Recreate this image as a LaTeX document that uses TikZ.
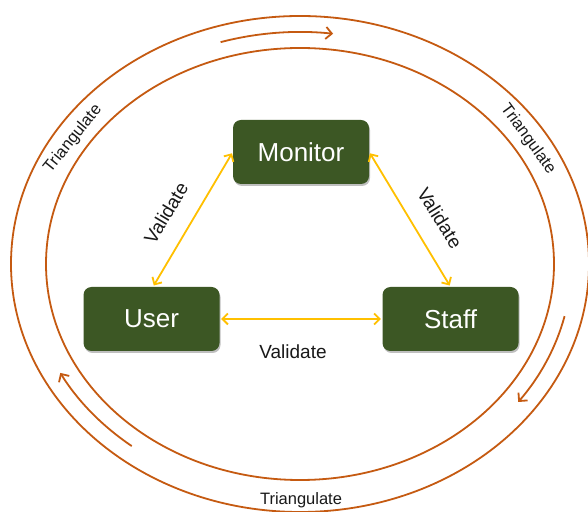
\documentclass[tikz,border=0pt]{standalone}
\usepackage{fontspec}
\setmainfont{Liberation Sans}
\usetikzlibrary{arrows.meta,shadows}
\definecolor{boxgreen}{RGB}{60,87,36}
\definecolor{ringorange}{RGB}{197,90,17}
\definecolor{linkgold}{RGB}{255,192,0}
\definecolor{labelink}{RGB}{25,25,25}
\begin{document}
\begin{tikzpicture}[x=1pt,y=1pt,
  actor/.style={fill=boxgreen, rounded corners=8pt, minimum width=136pt,
    minimum height=64pt, inner sep=0pt, text=white,
    font=\fontsize{26}{30}\selectfont,
    drop shadow={shadow xshift=1pt, shadow yshift=-2pt, opacity=0.25, fill=black}},
  ring/.style={draw=ringorange, line width=1.8pt},
  flow/.style={draw=ringorange, line width=1.8pt,
    -{Straight Barb[length=6pt,width=12pt,line width=1.8pt]}},
  link/.style={draw=linkgold, line width=1.8pt,
    {Straight Barb[length=5.5pt,width=11pt,line width=1.8pt]}-{Straight Barb[length=5.5pt,width=11pt,line width=1.8pt]},
    shorten <=1.5pt, shorten >=1.5pt},
  vlabel/.style={text=labelink, inner sep=0pt, font=\fontsize{19}{22}\selectfont},
  tlabel/.style={text=labelink, inner sep=0pt, font=\fontsize{16.5}{19}\selectfont}]
\useasboundingbox (0,0) rectangle (588,511);
\fill[white] (0,0) rectangle (588,511);
\clip (0,0) rectangle (588,511);

% the two triangulation rings
\coordinate (c) at (300,247);
\draw[ring] (c) ellipse [x radius=289, y radius=248];
\draw[ring] (c) ellipse [x radius=254, y radius=216];

% circulation arrows running between the rings
\draw[flow] (c) ++(107:271.5 and 232) arc[start angle=107, end angle=83, x radius=271.5, y radius=232];
\draw[flow] (c) ++(-13:271.5 and 232) arc[start angle=-13, end angle=-36.5, x radius=271.5, y radius=232];
\draw[flow] (c) ++(231.7:271.5 and 232) arc[start angle=231.7, end angle=208, x radius=271.5, y radius=232];

% the three parties
\node[actor] (monitor) at (301,359) {Monitor};
\node[actor] (user) at (151.5,192) {User};
\node[actor] (staff) at (450.5,192) {Staff};

% validation links
\draw[link] (monitor.west) -- ([xshift=1.5pt]user.north);
\draw[link] (monitor.east) -- (staff.north);
\draw[link] (user.east) -- (staff.west);

\node[vlabel, rotate=59] (vleft) at (166,298) {Validate};
\node[vlabel, rotate=-58] (vright) at (440,293) {Validate};
\node[vlabel] (vbottom) at (293,159) {Validate};

\node[tlabel, rotate=51] (tleft) at (73,372) {Triangulate};
\node[tlabel, rotate=-54] (tright) at (528,372) {Triangulate};
\node[tlabel] (tbottom) at (301,11) {Triangulate};
\end{tikzpicture}
\end{document}
